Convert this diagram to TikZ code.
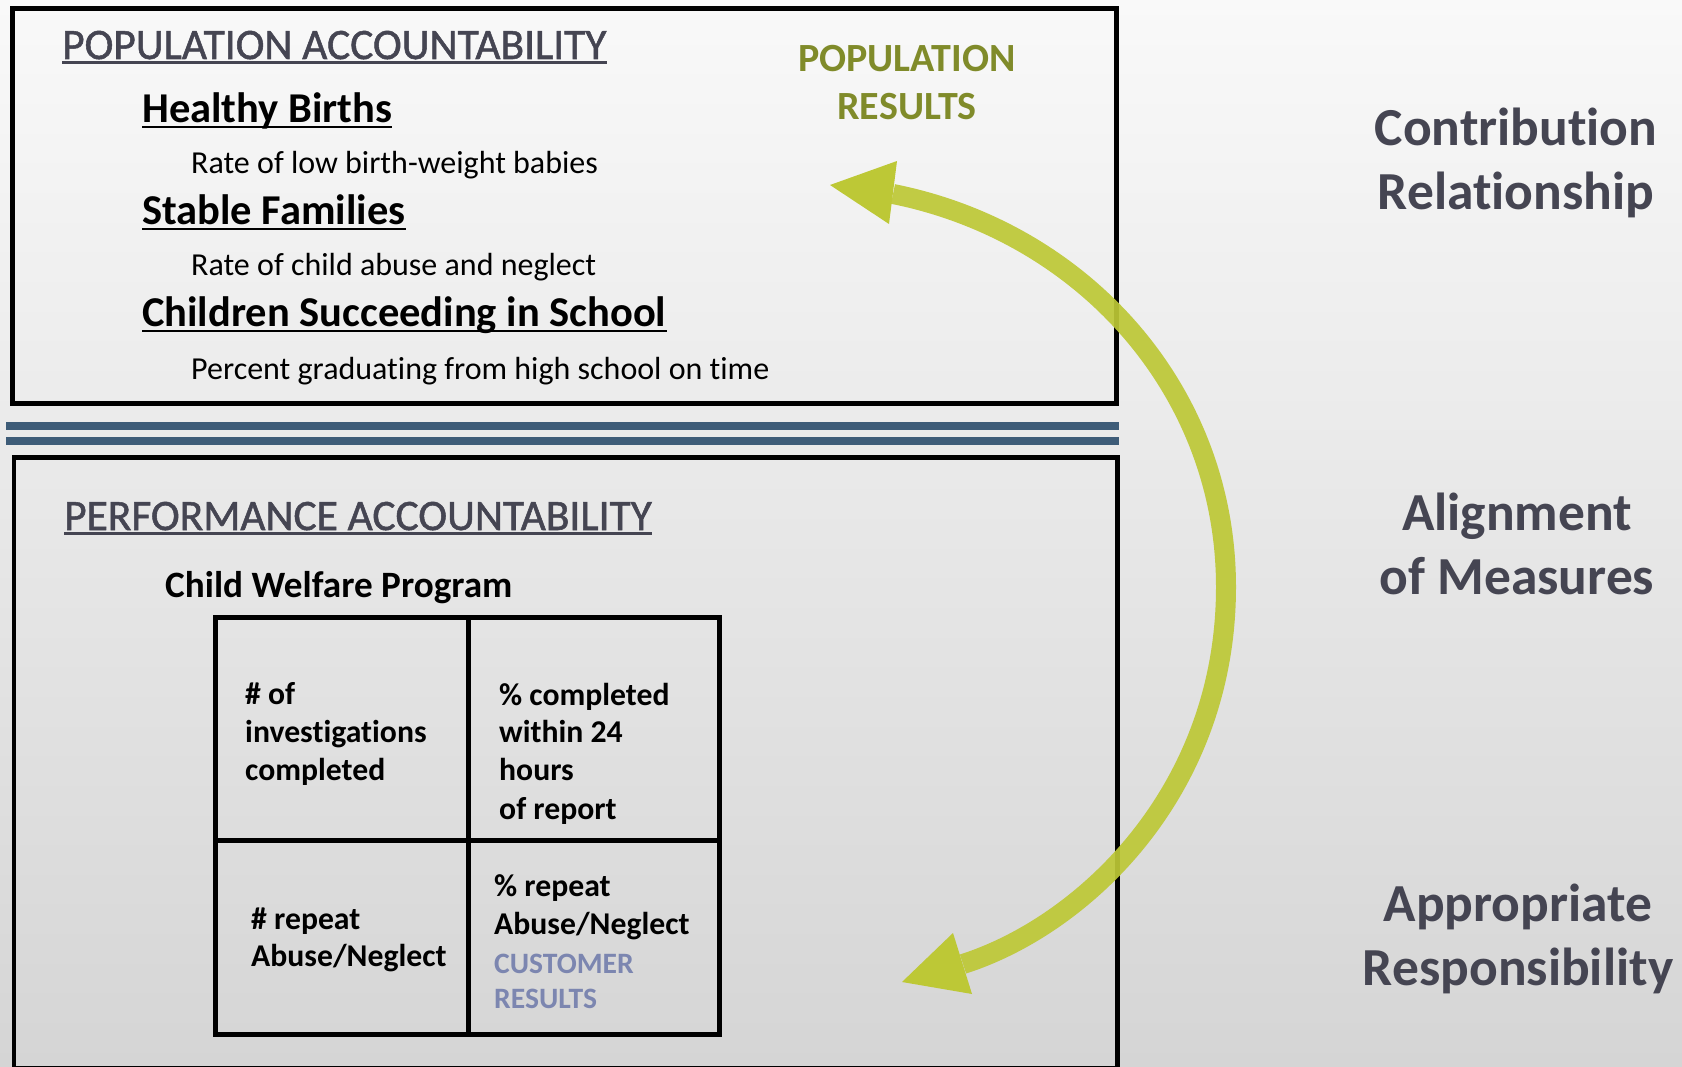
\documentclass[tikz,border=0pt]{standalone}
\usepackage{fontspec}
\setmainfont{Carlito}[Ligatures=NoCommon]
\newfontfamily\headfont{Carlito}[Ligatures=NoCommon, FakeBold=1.2]
\definecolor{darktext}{RGB}{69,69,82}
\definecolor{olivetext}{RGB}{128,139,42}
\definecolor{arrowgreen}{RGB}{189,200,54}
\definecolor{steel}{RGB}{62,92,120}
\definecolor{custblue}{RGB}{124,134,176}
\definecolor{bgtop}{RGB}{249,249,249}
\definecolor{bgbot}{RGB}{213,213,213}
\begin{document}
\begin{tikzpicture}[x=1pt,y=-1pt,
  txt/.style={inner sep=0pt, anchor=base west},
  heading/.style={txt, text=darktext, font=\headfont\fontsize{43.4}{50}\selectfont},
  goal/.style={txt, font=\bfseries\fontsize{42.5}{48}\selectfont},
  indic/.style={txt, font=\fontsize{32}{36}\selectfont},
  sidelab/.style={inner sep=0pt, anchor=base, text=darktext, font=\bfseries\fontsize{53.5}{60}\selectfont},
  popres/.style={inner sep=0pt, anchor=base, text=olivetext, font=\bfseries\fontsize{40}{46}\selectfont},
  cell/.style={txt, font=\bfseries\fontsize{31.7}{36}\selectfont},
  cust/.style={txt, text=custblue, font=\bfseries\fontsize{29.6}{34}\selectfont},
  ulgray/.style={draw=darktext, line width=2.5pt},
  ulblack/.style={draw=black, line width=2.8pt},
  frame/.style={draw=black, line width=5pt},
  grid/.style={draw=black, line width=5pt},
  dbl/.style={draw=steel, line width=8pt},
  shaft/.style={draw=arrowgreen, line width=20pt, opacity=0.92},
  head/.style={fill=arrowgreen, draw=none}]
\useasboundingbox (0,0) rectangle (1682,1067);
\clip (0,0) rectangle (1682,1067);
\shade[top color=bgtop, bottom color=bgbot] (0,0) rectangle (1682,1067);

% frames
\draw[frame] (12.5,9) rectangle (1116.5,403);
\draw[dbl] (6,426) -- (1119,426);
\draw[dbl] (6,441) -- (1119,441);
\draw[frame, line width=4.5pt] (14,457.5) rectangle (1117.5,1068);

% population accountability
\node[heading] (popacc) at (62,59) {POPULATION ACCOUNTABILITY};
\draw[ulgray] ([yshift=-3.5pt]popacc.base west) -- ([yshift=-3.5pt]popacc.base east);
\node[goal] (hb) at (142,123) {Healthy Births};
\draw[ulblack] ([yshift=-4pt]hb.base west) -- ([yshift=-4pt]hb.base east);
\node[indic] (hbi) at (191,174) {Rate of low birth-weight babies};
\node[goal] (sf) at (142,225) {Stable Families};
\draw[ulblack] ([yshift=-4pt]sf.base west) -- ([yshift=-4pt]sf.base east);
\node[indic] (sfi) at (191,276) {Rate of child abuse and neglect};
\node[goal] (cs) at (142,327) {Children Succeeding in School};
\draw[ulblack] ([yshift=-4pt]cs.base west) -- ([yshift=-4pt]cs.base east);
\node[indic] (csi) at (191,379) {Percent graduating from high school on time};

\node[popres] (pr1) at (907,72) {POPULATION};
\node[popres] (pr2) at (907,120) {RESULTS};

% side labels
\node[sidelab] (cr1) at (1516,146) {Contribution};
\node[sidelab] (cr2) at (1516,210) {Relationship};
\node[sidelab] (am1) at (1517,530) {Alignment};
\node[sidelab] (am2) at (1517,594) {of Measures};
\node[sidelab] (ar1) at (1518,921) {Appropriate};
\node[sidelab] (ar2) at (1518,985) {Responsibility};

% performance accountability
\node[heading] (perfacc) at (64,530) {PERFORMANCE ACCOUNTABILITY};
\draw[ulgray] ([yshift=-3.5pt]perfacc.base west) -- ([yshift=-3.5pt]perfacc.base east);
\node[txt, font=\bfseries\fontsize{37.2}{44}\selectfont] (cwp) at (165,597) {Child Welfare Program};

% table
\draw[grid] (215.5,617) rectangle (719.5,1034);
\draw[grid] (468,617) -- (468,1034);
\draw[grid] (215.5,840) -- (719.5,840);

\node[cell] (a1) at (245,704) {\# of};
\node[cell] (a2) at (245,742) {investigations};
\node[cell] (a3) at (245,780) {completed};
\node[cell] (b1) at (499,705) {\% completed};
\node[cell] (b2) at (499,742) {within 24};
\node[cell] (b3) at (499,780) {hours};
\node[cell] (b4) at (499,819) {of report};
\node[cell] (c1) at (251,929) {\# repeat};
\node[cell] (c2) at (251,966) {Abuse/Neglect};
\node[cell] (d1) at (494,896) {\% repeat};
\node[cell] (d2) at (494,934) {Abuse/Neglect};
\node[cust] (d3) at (494,973) {CUSTOMER};
\node[cust] (d4) at (494,1008) {RESULTS};

% green arrow
\coordinate (ts) at (893,194);
\coordinate (tm) at (1226,587);
\coordinate (te) at (963,964);
\draw[shaft, line cap=butt] (ts) .. controls (1083,232) and (1226,390) .. (tm)
   .. controls (1226,790) and (1085,925) .. (te);
\coordinate (ttip) at (830,185);
\coordinate (btip) at (902,982);
\fill[head] (ttip) -- (897,161) -- (889,224) -- cycle;
\fill[head] (btip) -- (953,933) -- (972,994) -- cycle;
\end{tikzpicture}
\end{document}
